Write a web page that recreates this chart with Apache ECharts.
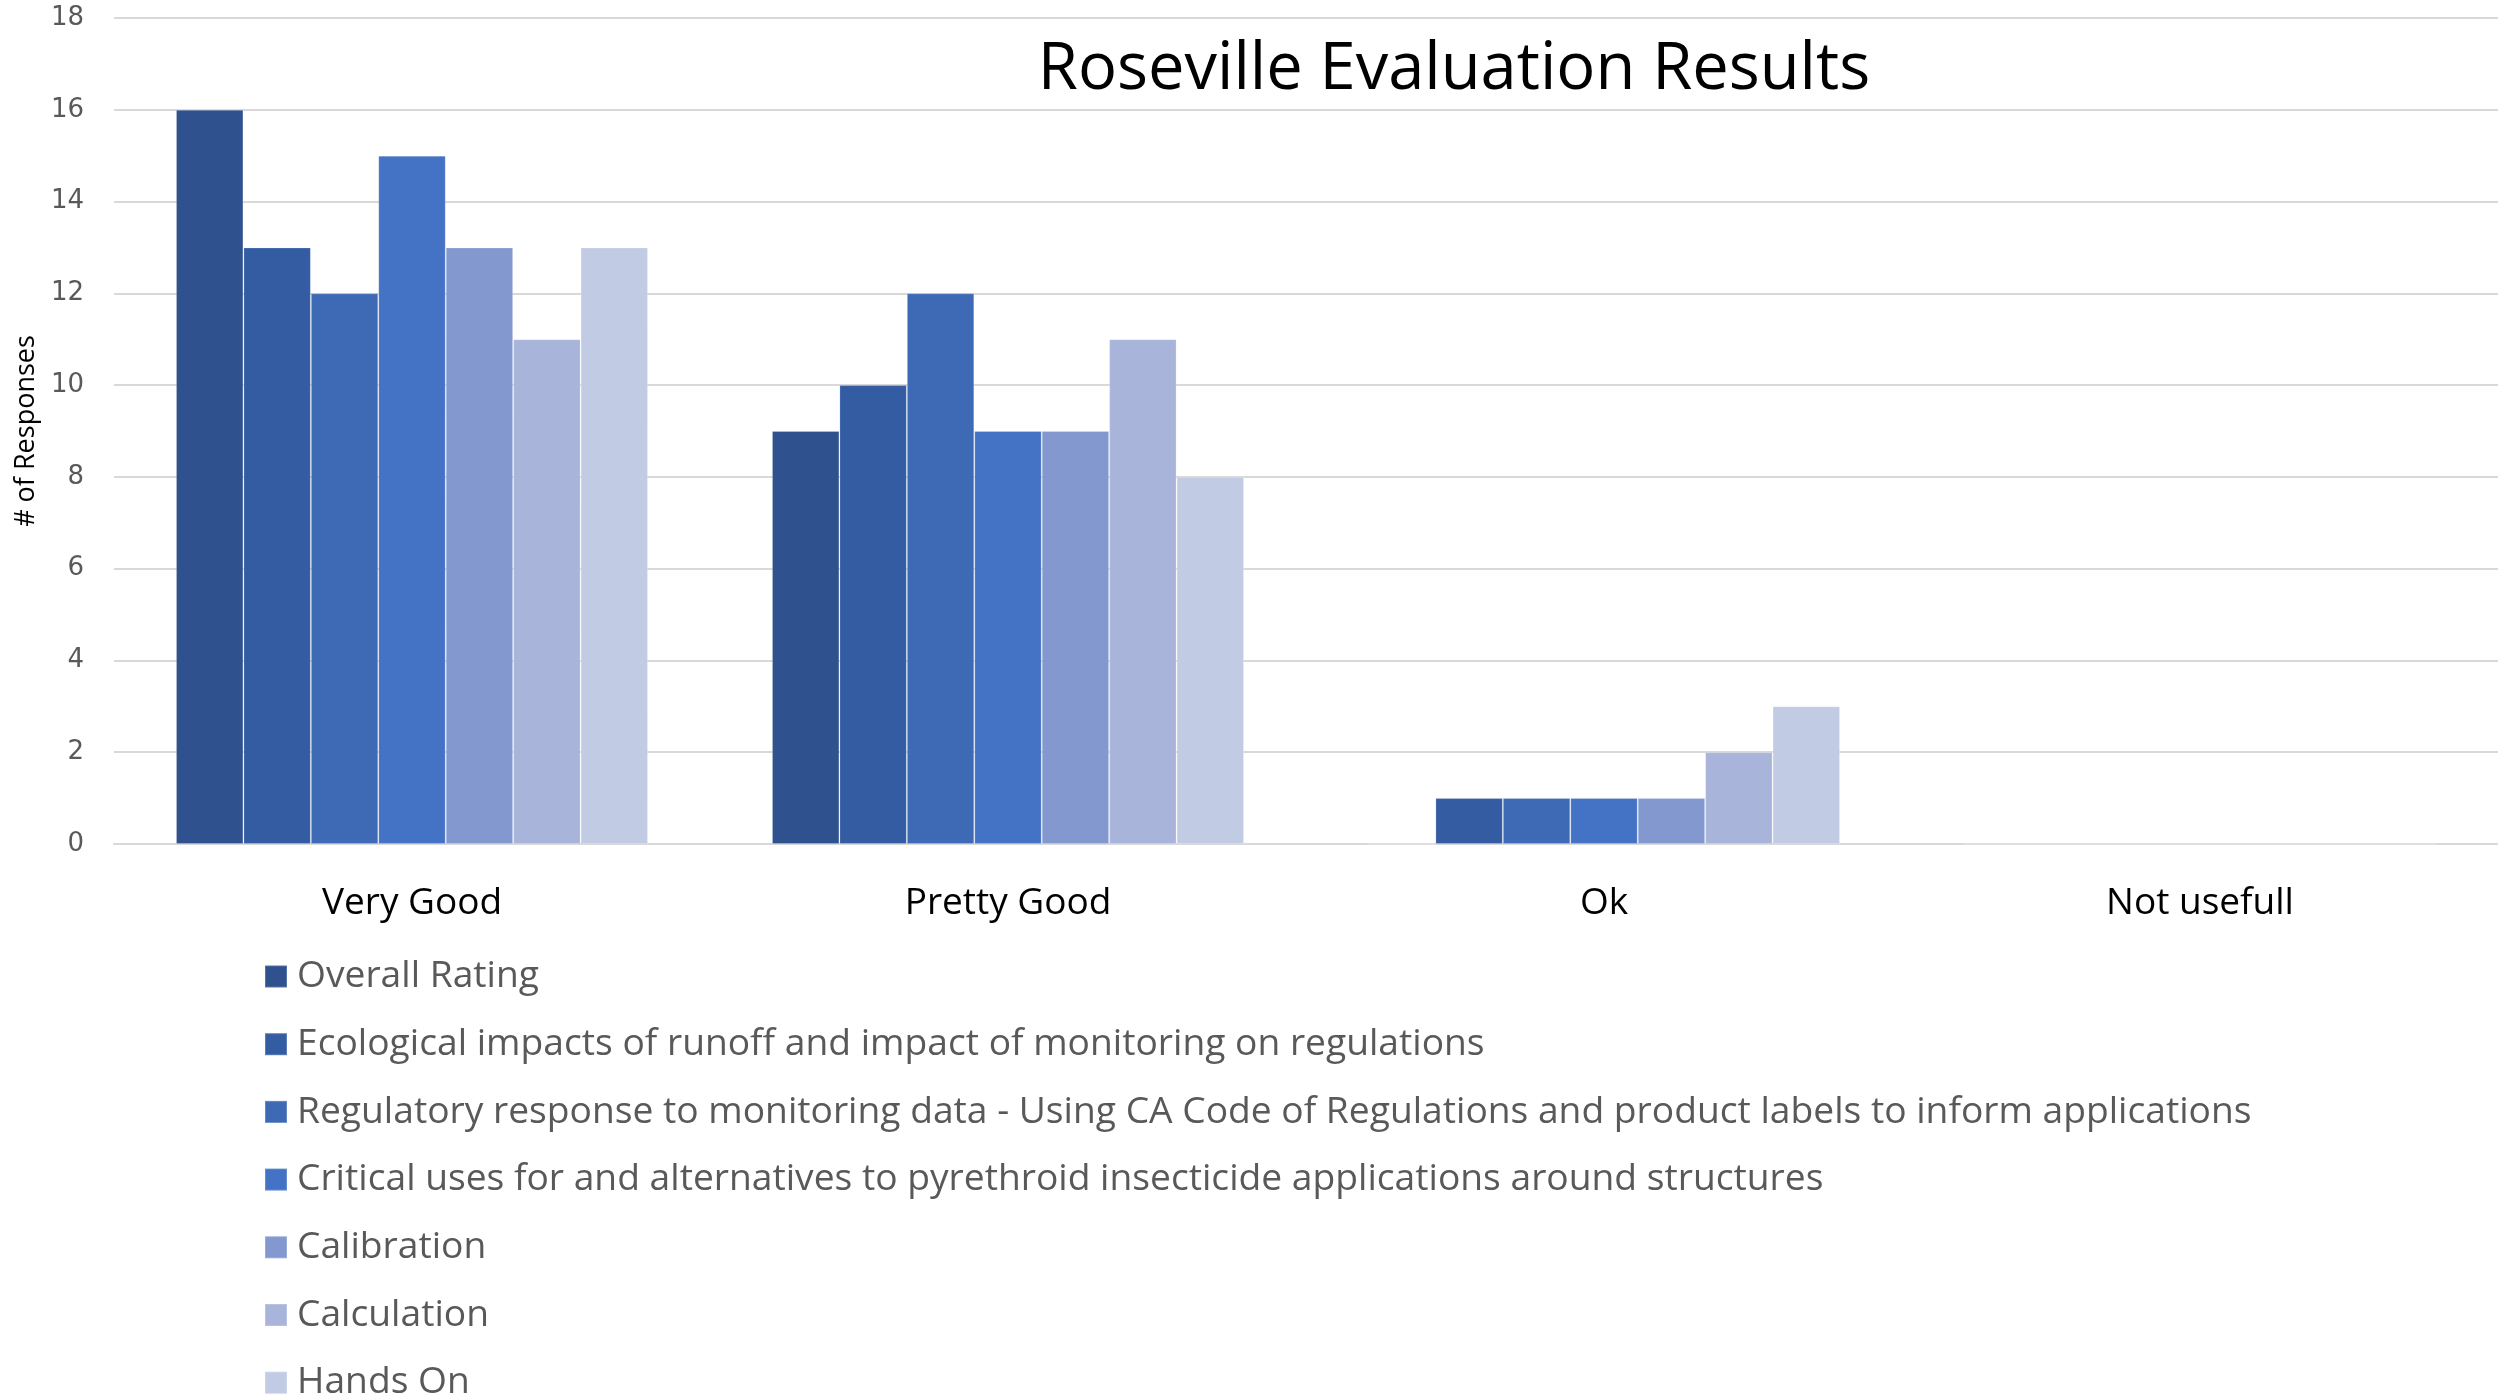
<!DOCTYPE html>
<html>
<head>
<meta charset="utf-8">
<title>Roseville Evaluation Results</title>
<script src="https://cdn.jsdelivr.net/npm/echarts@6/dist/echarts.min.js"></script>
<style>
  html, body { margin: 0; padding: 0; background: #fff; }
  #chart { width: 2498px; height: 1397px; }
</style>
</head>
<body>
<div id="chart"></div>
<script>
// categories on the x axis
const categories = ['Very Good', 'Pretty Good', 'Ok', 'Not usefull']

// one array per session topic
const overallRating = [16, 9, 0, 0]
const ecologicalImpacts = [13, 10, 1, 0]
const regulatoryResponse = [12, 12, 1, 0]
const criticalUses = [15, 9, 1, 0]
const calibration = [13, 9, 1, 0]
const calculation = [11, 11, 2, 0]
const handsOn = [13, 8, 3, 0]

const seriesNames = [
  'Overall Rating',
  'Ecological impacts of runoff and impact of monitoring on regulations',
  'Regulatory response to monitoring data - Using CA Code of Regulations and product labels to inform applications',
  'Critical uses for and alternatives to pyrethroid insecticide applications around structures',
  'Calibration',
  'Calculation',
  'Hands On',
]
const seriesValues = [
  overallRating,
  ecologicalImpacts,
  regulatoryResponse,
  criticalUses,
  calibration,
  calculation,
  handsOn,
]
const colors = ['#2F528F', '#345CA2', '#3D69B5', '#4472C4', '#8298CE', '#A8B4DA', '#C2CBE4']

const chart = echarts.init(document.getElementById('chart'))

const option = {
  animation: false,
  color: colors,
  title: {
    text: 'Roseville Evaluation Results',
    left: 1449,
    top: 33,
    textAlign: 'center',
    textStyle: {
      fontFamily: 'Open Sans',
      fontWeight: 'normal',
      fontSize: 65,
      color: '#000',
    },
  },
  grid: {
    left: 114,
    right: 0,
    top: 18,
    bottom: 553,
    containLabel: false,
  },
  legend: {
    orient: 'vertical',
    left: 259,
    top: 953,
    height: 480, // keep it one column
    icon: 'rect',
    itemWidth: 22,
    itemHeight: 22,
    itemGap: 30.7,
    data: seriesNames,
    textStyle: {
      fontFamily: 'Open Sans',
      fontSize: 37.2,
      lineHeight: 36,
      color: '#595959',
      padding: [0, 0, 0, 5],
    },
  },
  xAxis: {
    type: 'category',
    data: categories,
    axisTick: { show: false },
    axisLine: { lineStyle: { color: '#D9D9D9', width: 2 } },
    axisLabel: {
      margin: 41,
      fontFamily: 'Open Sans',
      fontSize: 37,
      color: '#000',
    },
  },
  yAxis: {
    type: 'value',
    min: 0,
    max: 18,
    interval: 2,
    name: '# of Responses',
    nameLocation: 'middle',
    nameGap: 74,
    nameRotate: 90,
    nameTextStyle: {
      fontFamily: 'Open Sans',
      fontSize: 27,
      color: '#000',
    },
    axisLine: { show: false },
    axisTick: { show: false },
    splitLine: { lineStyle: { color: '#D9D9D9', width: 2 } },
    axisLabel: {
      margin: 30,
      fontFamily: 'DejaVu Sans',
      fontSize: 26,
      color: '#595959',
    },
  },
  series: seriesNames.map((name, i) => ({
    name: name,
    type: 'bar',
    data: seriesValues[i],
    barGap: '0%',
    barCategoryGap: '20.8%',
    itemStyle: {
      borderColor: 'rgba(255,255,255,0.2)',
      borderWidth: 1,
    },
  })),
}

chart.setOption(option)
</script>
</body>
</html>
